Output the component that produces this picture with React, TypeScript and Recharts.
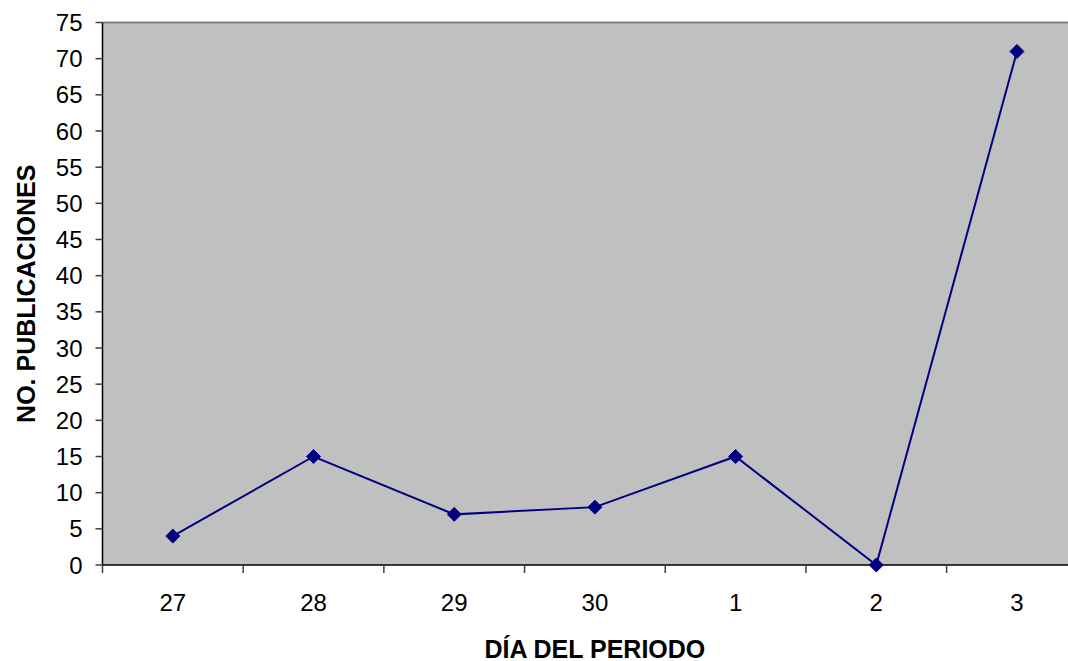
import React from 'react';
import { LineChart, Line, XAxis, YAxis, CartesianGrid, ReferenceLine } from 'recharts';

const days = ['27', '28', '29', '30', '1', '2', '3'];
const publications = [4, 15, 7, 8, 15, 0, 71];
const yTicks = [0, 5, 10, 15, 20, 25, 30, 35, 40, 45, 50, 55, 60, 65, 70, 75];
const xTicks = [-0.5, 0, 0.5, 1, 1.5, 2, 2.5, 3, 3.5, 4, 4.5, 5, 5.5, 6, 6.5];

const data = days.map((d, i) => ({ i, day: d, value: publications[i] }));

const FONT = 'Arial, "Liberation Sans", sans-serif';

const XTick = (props: any) => {
  const { x, y, payload } = props;
  const v = payload.value;
  if (Number.isInteger(v)) {
    return (
      <text x={x} y={y + 37} textAnchor="middle" dominantBaseline="central" fontSize={24} fontFamily={FONT} fill="#000">
        {days[v]}
      </text>
    );
  }
  return <line x1={x} x2={x} y1={y} y2={y + 8} stroke="#404040" strokeWidth={1.5} />;
};

const Diamond = (props: any) => {
  const { cx, cy } = props;
  if (cx == null || cy == null) return null;
  const r = 7;
  return <polygon points={`${cx},${cy - r} ${cx + r},${cy} ${cx},${cy + r} ${cx - r},${cy}`} fill="#000080" stroke="#000080" />;
};

const YTitle = (props: any) => {
  const vb = props.viewBox || {};
  const cy = vb.y + vb.height / 2;
  const cx = 26;
  return (
    <text x={cx} y={cy} transform={`rotate(-90, ${cx}, ${cy})`} textAnchor="middle" dominantBaseline="central" fontSize={25} fontWeight="bold" fontFamily={FONT} fill="#000">
      NO. PUBLICACIONES
    </text>
  );
};

const XTitle = (props: any) => {
  const vb = props.viewBox || {};
  const cx = vb.x + vb.width / 2;
  const cy = vb.y + 84;
  return (
    <text x={cx} y={cy} textAnchor="middle" dominantBaseline="central" fontSize={25} fontWeight="bold" fontFamily={FONT} fill="#000">
      DÍA DEL PERIODO
    </text>
  );
};

export default function App() {
  return (
    <div style={{ position: 'absolute', left: 0, top: 0, width: 1068, height: 661, overflow: 'hidden', background: '#fff' }}>
      <LineChart width={1100} height={661} data={data} margin={{ top: 22.5, right: 12.7, bottom: 0, left: 0 }}>
        <CartesianGrid fill="#C0C0C0" horizontal={false} vertical={false} stroke="none" />
        <XAxis
          dataKey="i"
          type="number"
          domain={[-0.5, 6.5]}
          ticks={xTicks}
          interval={0}
          tick={<XTick />}
          tickLine={false}
          tickSize={0}
          tickMargin={0}
          height={96}
          axisLine={{ stroke: '#000', strokeWidth: 1.5 }}
          label={<XTitle />}
        />
        <YAxis
          type="number"
          domain={[0, 75]}
          ticks={yTicks}
          interval={0}
          width={102.5}
          tickSize={7}
          tickMargin={13}
          tick={{ fontSize: 24, fill: '#000', fontFamily: FONT }}
          tickLine={{ stroke: '#404040', strokeWidth: 1.5 }}
          axisLine={{ stroke: '#000', strokeWidth: 1.5 }}
          label={<YTitle />}
        />
        <ReferenceLine y={75} stroke="#808080" strokeWidth={2} />
        <Line
          type="linear"
          dataKey="value"
          stroke="#000080"
          strokeWidth={2}
          dot={<Diamond />}
          activeDot={false}
          isAnimationActive={false}
        />
      </LineChart>
    </div>
  );
}
